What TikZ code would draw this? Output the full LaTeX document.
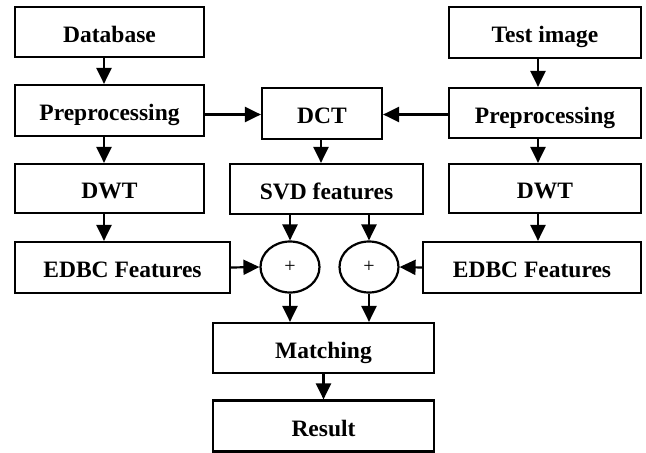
\documentclass[tikz,border=0pt]{standalone}
\usepackage{fontspec}
\setmainfont{Liberation Serif}
\usetikzlibrary{arrows.meta,shapes.geometric}
\tikzset{
  box/.style={draw, line width=2.2pt, rectangle, inner sep=0pt,
    text height=20pt, text depth=0pt,
    font=\fontsize{23.5}{28}\selectfont\bfseries},
  sumnode/.style={draw, line width=2.2pt, ellipse, inner sep=0pt,
    minimum width=59pt, minimum height=51pt,
    font=\fontsize{20}{24}\selectfont},
  arr/.style={line width=2.2pt, -{Triangle[length=16pt,width=15pt]}}
}
\begin{document}
\begin{tikzpicture}[x=1pt,y=-1pt]
  \useasboundingbox (0,0) rectangle (646,453);

  % left column: database branch
  \node[box, minimum width=189pt, minimum height=50pt] (db)   at (109.5,32)  {Database};
  \node[box, minimum width=189pt, minimum height=51pt] (preL) at (109.5,110.5) {Preprocessing};
  \node[box, minimum width=189pt, minimum height=49pt] (dwtL) at (109.5,188.5) {DWT};
  \node[box, minimum width=215pt, minimum height=51pt] (edL)  at (122.5,267.5) {EDBC Features};

  % middle column
  \node[box, minimum width=120pt, minimum height=51pt] (dct)  at (322,113.5) {DCT};
  \node[box, minimum width=193pt, minimum height=50pt] (svd)  at (326.5,189) {SVD features};
  \node[sumnode] (sumL) at (290,267) {+};
  \node[sumnode] (sumR) at (369,267) {+};
  \node[box, minimum width=221pt, minimum height=50pt] (match) at (323.5,348) {Matching};
  \node[box, minimum width=221pt, minimum height=51pt] (res)   at (323.5,426) {Result};

  % right column: test image branch
  \node[box, minimum width=192pt, minimum height=51pt] (test) at (545,32.5) {Test image};
  \node[box, minimum width=192pt, minimum height=50pt] (preR) at (545,113) {Preprocessing};
  \node[box, minimum width=192pt, minimum height=49pt] (dwtR) at (545,188.5) {DWT};
  \node[box, minimum width=218pt, minimum height=51pt] (edR)  at (532,267.5) {EDBC Features};

  % vertical guide lines for the connectors
  \coordinate (colL) at (104,0);
  \coordinate (colR) at (538,0);
  \coordinate (colD) at (321,0);
  \coordinate (rowP) at (0,114.5);

  % left chain
  \draw[arr] (db.south -| colL) -- (preL.north -| colL);
  \draw[arr] (preL.south -| colL) -- (dwtL.north -| colL);
  \draw[arr] (dwtL.south -| colL) -- (edL.north -| colL);

  % right chain
  \draw[arr] (test.south -| colR) -- (preR.north -| colR);
  \draw[arr] (preR.south -| colR) -- (dwtR.north -| colR);
  \draw[arr] (dwtR.south -| colR) -- (edR.north -| colR);

  % into the DCT
  \draw[arr] (preL.east |- rowP) -- (dct.west |- rowP);
  \draw[arr] (preR.west |- rowP) -- (dct.east |- rowP);
  \draw[arr] (dct.south -| colD) -- (svd.north -| colD);

  % fusion
  \draw[arr] (svd.south -| sumL) -- (sumL.north);
  \draw[arr] (svd.south -| sumR) -- (sumR.north);
  \draw[arr] (edL.east) -- (sumL.west);
  \draw[arr] (edR.west) -- (sumR.east);
  \draw[arr] (sumL.south) -- (match.north -| sumL);
  \draw[arr] (sumR.south) -- (match.north -| sumR);
  \draw[arr] (match.south -| res.north) -- (res.north);
\end{tikzpicture}
\end{document}
